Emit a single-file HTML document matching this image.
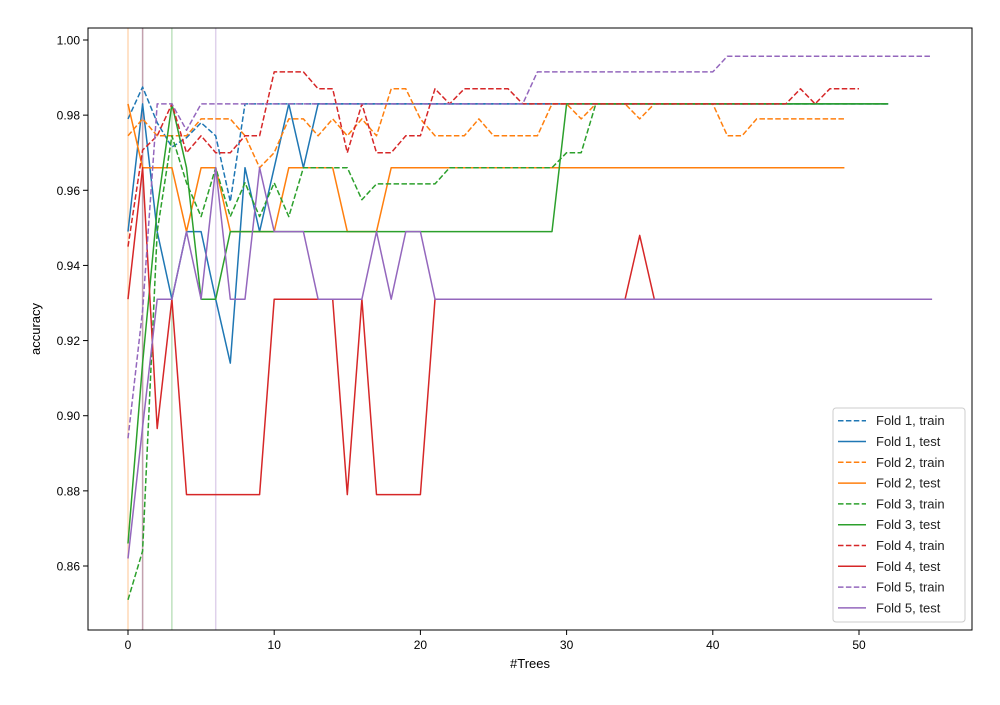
<!DOCTYPE html>
<html><head><meta charset="utf-8"><style>
body{margin:0;background:#fff;}
svg{font-family:"Liberation Sans","DejaVu Sans",sans-serif;}
</style></head><body>
<svg id="chart" width="1000" height="700" viewBox="0 0 1000 700">
<rect width="1000" height="700" fill="#fff"/>
<g id="vlines"></g>
<g id="series"></g>
<rect x="88" y="28" width="884" height="602" fill="none" stroke="#000" stroke-width="1"/>
<g id="xticks"></g><g id="yticks"></g>
<text x="530" y="668" font-size="13" text-anchor="middle">#Trees</text>
<text transform="translate(40,329) rotate(-90)" font-size="13" text-anchor="middle">accuracy</text>
<g id="legend"></g>
</svg>
<script>
const xTicks=[0,10,20,30,40,50];
const yTicks=[0.86,0.88,0.90,0.92,0.94,0.96,0.98,1.00];
const f1train=[0.979,0.9875,0.978,0.9715,0.974,0.978,0.9745,0.957,0.983,0.983,0.983,0.983,0.983,0.983,0.983,0.983,0.983,0.983,0.983,0.983,0.983,0.983,0.983,0.983,0.983,0.983,0.983,0.983,0.983,0.983,0.983,0.983,0.983,0.983,0.983,0.983,0.983,0.983,0.983,0.983,0.983,0.983,0.983,0.983,0.983,0.983,0.983,0.983,0.983,0.983,0.983,0.983,0.983];
const f1test=[0.949,0.983,0.949,0.931,0.949,0.949,0.931,0.914,0.966,0.949,0.966,0.983,0.966,0.983,0.983,0.983,0.983,0.983,0.983,0.983,0.983,0.983,0.983,0.983,0.983,0.983,0.983,0.983,0.983,0.983,0.983,0.983,0.983,0.983,0.983,0.983,0.983,0.983,0.983,0.983,0.983,0.983,0.983,0.983,0.983,0.983,0.983,0.983,0.983,0.983,0.983,0.983,0.983];
const f2train=[0.9745,0.979,0.9745,0.9745,0.9745,0.979,0.979,0.979,0.9745,0.966,0.970,0.979,0.979,0.9745,0.979,0.9745,0.979,0.9745,0.987,0.987,0.979,0.9745,0.9745,0.9745,0.979,0.9745,0.9745,0.9745,0.9745,0.983,0.983,0.979,0.983,0.983,0.983,0.979,0.983,0.983,0.983,0.983,0.983,0.9745,0.9745,0.979,0.979,0.979,0.979,0.979,0.979,0.979];
const f2test=[0.983,0.966,0.966,0.966,0.949,0.966,0.966,0.949,0.949,0.949,0.949,0.966,0.966,0.966,0.966,0.949,0.949,0.949,0.966,0.966,0.966,0.966,0.966,0.966,0.966,0.966,0.966,0.966,0.966,0.966,0.966,0.966,0.966,0.966,0.966,0.966,0.966,0.966,0.966,0.966,0.966,0.966,0.966,0.966,0.966,0.966,0.966,0.966,0.966,0.966];
const f3train=[0.851,0.864,0.949,0.9745,0.962,0.953,0.966,0.953,0.962,0.953,0.962,0.953,0.966,0.966,0.966,0.966,0.9575,0.9617,0.9617,0.9617,0.9617,0.9617,0.966,0.966,0.966,0.966,0.966,0.966,0.966,0.966,0.970,0.970,0.983,0.983,0.983,0.983,0.983,0.983,0.983,0.983,0.983,0.983,0.983,0.983,0.983,0.983,0.983,0.983,0.983,0.983,0.983,0.983,0.983];
const f3test=[0.866,0.914,0.955,0.983,0.966,0.931,0.931,0.949,0.949,0.949,0.949,0.949,0.949,0.949,0.949,0.949,0.949,0.949,0.949,0.949,0.949,0.949,0.949,0.949,0.949,0.949,0.949,0.949,0.949,0.949,0.983,0.983,0.983,0.983,0.983,0.983,0.983,0.983,0.983,0.983,0.983,0.983,0.983,0.983,0.983,0.983,0.983,0.983,0.983,0.983,0.983,0.983,0.983];
const f4train=[0.945,0.9707,0.9745,0.983,0.970,0.9745,0.970,0.970,0.9745,0.9745,0.9915,0.9915,0.9915,0.987,0.987,0.970,0.983,0.970,0.970,0.9745,0.9745,0.987,0.983,0.987,0.987,0.987,0.987,0.983,0.983,0.983,0.983,0.983,0.983,0.983,0.983,0.983,0.983,0.983,0.983,0.983,0.983,0.983,0.983,0.983,0.983,0.983,0.987,0.983,0.987,0.987,0.987];
const f4test=[0.931,0.966,0.8966,0.931,0.879,0.879,0.879,0.879,0.879,0.879,0.931,0.931,0.931,0.931,0.931,0.879,0.931,0.879,0.879,0.879,0.879,0.931,0.931,0.931,0.931,0.931,0.931,0.931,0.931,0.931,0.931,0.931,0.931,0.931,0.931,0.948,0.931,0.931,0.931,0.931,0.931,0.931,0.931,0.931,0.931,0.931,0.931,0.931,0.931,0.931,0.931];
const f5train=[0.894,0.928,0.983,0.983,0.976,0.983,0.983,0.983,0.983,0.983,0.983,0.983,0.983,0.983,0.983,0.983,0.983,0.983,0.983,0.983,0.983,0.983,0.983,0.983,0.983,0.983,0.983,0.983,0.9915,0.9915,0.9915,0.9915,0.9915,0.9915,0.9915,0.9915,0.9915,0.9915,0.9915,0.9915,0.9915,0.9957,0.9957,0.9957,0.9957,0.9957,0.9957,0.9957,0.9957,0.9957,0.9957,0.9957,0.9957,0.9957,0.9957,0.9957];
const f5test=[0.862,0.897,0.931,0.931,0.949,0.931,0.966,0.931,0.931,0.966,0.949,0.949,0.949,0.931,0.931,0.931,0.931,0.949,0.931,0.949,0.949,0.931,0.931,0.931,0.931,0.931,0.931,0.931,0.931,0.931,0.931,0.931,0.931,0.931,0.931,0.931,0.931,0.931,0.931,0.931,0.931,0.931,0.931,0.931,0.931,0.931,0.931,0.931,0.931,0.931,0.931,0.931,0.931,0.931,0.931,0.931];
const vlineX=[0,1,1,3,6];
const vlineColors=["#ff7f0e","#1f77b4","#d62728","#2ca02c","#9467bd"];

const NS="http://www.w3.org/2000/svg";
function X(v){return 128+(v-0)*(859-128)/50;}
function Y(v){return 40+(1-v)*(566-40)/0.14;}
function mk(tag,attrs,parent){const e=document.createElementNS(NS,tag);for(const k in attrs)e.setAttribute(k,attrs[k]);parent.appendChild(e);return e;}

const vg=document.getElementById('vlines');
vlineX.forEach((v,i)=>{
  const l=mk('line',{x1:X(v),x2:X(v),y1:28,y2:630,stroke:vlineColors[i],'stroke-opacity':0.3,'stroke-width':1.5},vg);
  
  
});

const xg=document.getElementById('xticks');
xTicks.forEach(t=>{
  mk('line',{x1:X(t),x2:X(t),y1:630,y2:635,stroke:'#000'},xg);
  const tx=mk('text',{x:X(t),y:649,'font-size':12,'text-anchor':'middle'},xg);
  tx.textContent=t;
  
  
});
const yg=document.getElementById('yticks');
yTicks.forEach(t=>{
  mk('line',{x1:83,x2:88,y1:Y(t),y2:Y(t),stroke:'#000'},yg);
  const tx=mk('text',{x:80,y:Y(t)+4.5,'font-size':12,'text-anchor':'end'},yg);
  tx.textContent=t.toFixed(2);
  
  
});

const series=[
 ['Fold 1, train',f1train,'#1f77b4',true],['Fold 1, test',f1test,'#1f77b4',false],
 ['Fold 2, train',f2train,'#ff7f0e',true],['Fold 2, test',f2test,'#ff7f0e',false],
 ['Fold 3, train',f3train,'#2ca02c',true],['Fold 3, test',f3test,'#2ca02c',false],
 ['Fold 4, train',f4train,'#d62728',true],['Fold 4, test',f4test,'#d62728',false],
 ['Fold 5, train',f5train,'#9467bd',true],['Fold 5, test',f5test,'#9467bd',false]];
const sg=document.getElementById('series');
const lg=document.getElementById('legend');
const box=mk('rect',{x:833,y:408,width:132,height:214,rx:3,fill:'#fff','fill-opacity':0.8,stroke:'#ccc'},lg);


series.forEach((s,i)=>{
  const pts=s[1].map((v,j)=>X(j).toFixed(1)+','+Y(v).toFixed(1)).join(' ');
  const p=mk('polyline',{points:pts,fill:'none',stroke:s[2],'stroke-width':1.5,'stroke-linejoin':'round'},sg);
  if(s[3])p.setAttribute('stroke-dasharray','5.5,2.4');
  
  
  const ly=420.7+i*20.8;
  const ll=mk('line',{x1:838,x2:866,y1:ly,y2:ly,stroke:s[2],'stroke-width':1.5},lg);
  if(s[3])ll.setAttribute('stroke-dasharray','5.5,2.4');
  const lt=mk('text',{x:876,y:ly+4.5,'font-size':13,fill:'#222'},lg);
  lt.textContent=s[0];
  
  
});
</script>
</body></html>
